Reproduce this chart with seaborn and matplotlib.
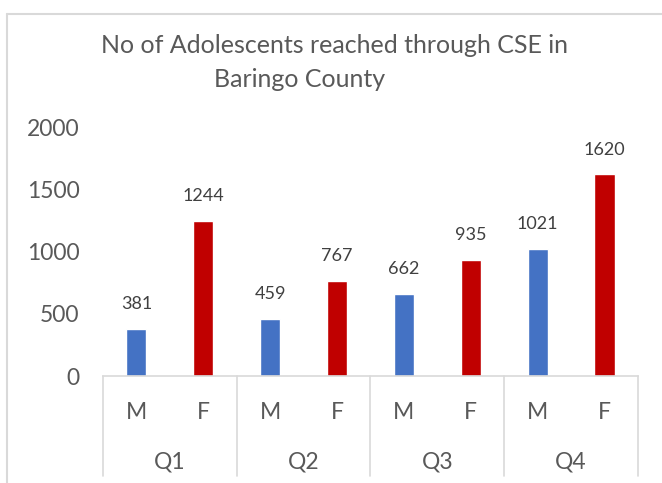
import matplotlib
matplotlib.use("Agg")
from matplotlib import pyplot as plt
from matplotlib.lines import Line2D
import pandas as pd
import seaborn as sns

# Data
quarters = ["Q1", "Q2", "Q3", "Q4"]
sexes = ["M", "F"]
male_reached = [381, 459, 662, 1021]
female_reached = [1244, 767, 935, 1620]

rows = []
for q, m, f in zip(quarters, male_reached, female_reached):
    rows.append({"slot": q + " M", "quarter": q, "sex": "M", "value": m})
    rows.append({"slot": q + " F", "quarter": q, "sex": "F", "value": f})
df = pd.DataFrame(rows)

sns.set_style("white")
plt.rcParams["font.family"] = ["Lato", "DejaVu Sans"]
txt = "#595959"
grid_col = "#d9d9d9"

fig = plt.figure(figsize=(6.62, 4.83), dpi=100)
ax = fig.add_axes([0.1556, 0.2215, 0.808, 0.5155])

sns.barplot(data=df, x="slot", y="value", hue="sex", dodge=False,
            palette={"M": "#4472C4", "F": "#C00000"}, width=0.3,
            legend=False, ax=ax, saturation=1)

ax.set_xlim(-0.5, len(df) - 0.5)
ax.set_ylim(0, 2000)
ax.set_yticks([0, 500, 1000, 1500, 2000])
ax.tick_params(axis="y", length=0, labelsize=16.5, labelcolor=txt, pad=17)
ax.set_xticks(range(len(df)))
ax.set_xticklabels(df["sex"])
ax.tick_params(axis="x", length=0, labelsize=16.5, labelcolor=txt, pad=19)
ax.set_xlabel("")
ax.set_ylabel("")
for s in ["top", "right", "left"]:
    ax.spines[s].set_visible(False)
ax.spines["bottom"].set_color(grid_col)
ax.spines["bottom"].set_linewidth(1.2)

# data labels
for cont in ax.containers:
    ax.bar_label(cont, padding=12, fontsize=13, color="#404040")

# multi-level category axis
tr = ax.get_xaxis_transform()
for i in range(len(quarters) + 1):
    xpos = 2 * i - 0.5
    ax.add_line(Line2D([xpos, xpos], [0, -0.4], transform=tr, color=grid_col,
                       lw=1.2, clip_on=False))
for i, q in enumerate(quarters):
    ax.text(2 * i + 0.5, -0.345, q, transform=tr, ha="center", va="center",
            fontsize=16.5, color=txt)

# title
fig.text(0.505, 0.905, "No of Adolescents reached through CSE in", ha="center",
         va="center", fontsize=18, color=txt)
fig.text(0.452, 0.836, "Baringo County", ha="center", va="center",
         fontsize=18, color=txt)

# chart border (cropped)
fig.add_artist(Line2D([7 / 662, 1], [1 - 14 / 483, 1 - 14 / 483],
                      transform=fig.transFigure, color=grid_col, lw=1.5))
fig.add_artist(Line2D([7 / 662, 7 / 662], [0, 1 - 14 / 483],
                      transform=fig.transFigure, color=grid_col, lw=1.5))

fig.savefig("out.png", dpi=100)
